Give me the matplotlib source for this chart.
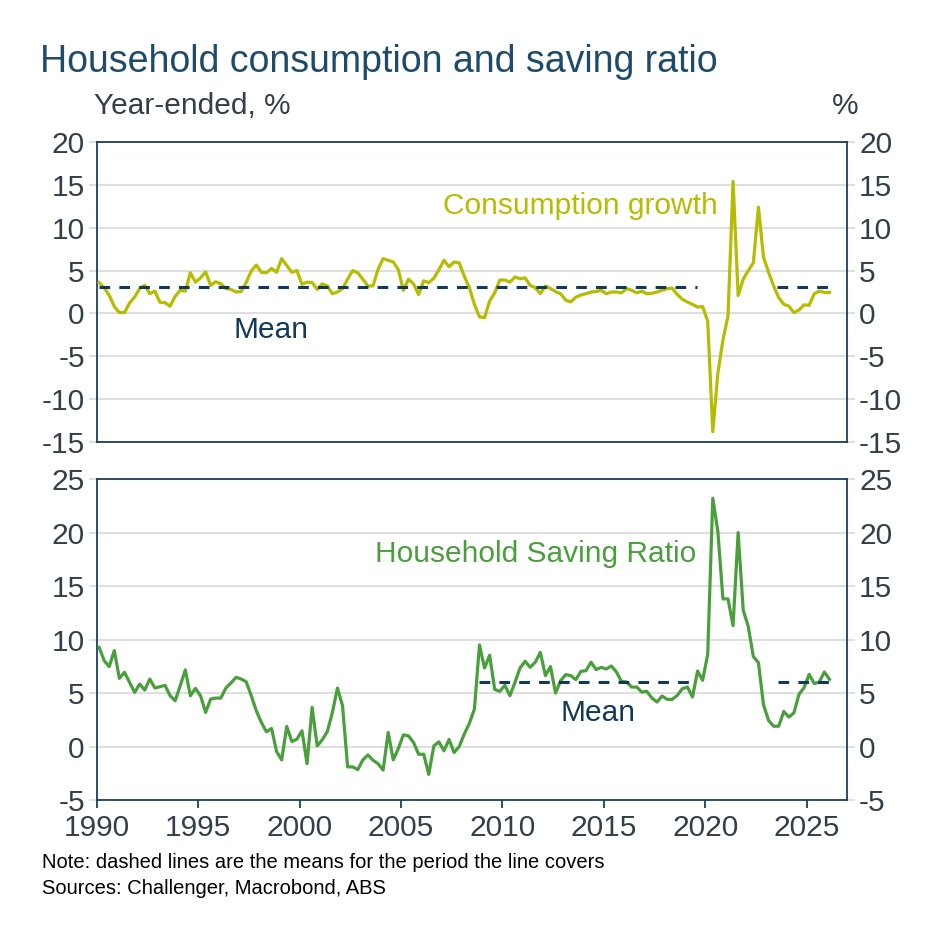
import matplotlib
matplotlib.use("Agg")
import matplotlib.pyplot as plt
import numpy as np

plt.rcParams['font.family'] = ['Liberation Sans', 'DejaVu Sans']
plt.rcParams['axes.unicode_minus'] = False

# quarterly data, 1990Q1 onwards
start_year = 1990
consumption = [
    3.6, 3.0, 2.1, 0.8, 0.1, 0.1, 1.2, 1.9, 2.9, 3.3,
    2.3, 2.6, 1.3, 1.25, 0.85, 2.0, 2.7, 2.6, 4.75, 3.65,
    4.15, 4.85, 3.27, 3.7, 3.45, 2.9, 2.8, 2.5, 2.55, 3.6,
    4.95, 5.65, 4.8, 4.75, 5.25, 4.8, 6.4, 5.6, 4.8, 5.0,
    3.4, 3.65, 3.6, 2.8, 3.45, 3.2, 2.3, 2.5, 2.9, 4.0,
    5.0, 4.75, 4.0, 3.2, 3.2, 5.15, 6.4, 6.2, 6.0, 5.1,
    2.7, 4.0, 3.45, 2.2, 3.8, 3.6, 4.1, 5.1, 6.2, 5.45,
    6.0, 5.9, 4.35, 3.0, 1.05, -0.4, -0.5, 1.45, 2.4, 3.9,
    3.9, 3.65, 4.25, 4.05, 4.15, 3.27, 3.0, 2.3, 3.2, 2.9,
    2.55, 2.3, 1.55, 1.35, 1.9, 2.15, 2.3, 2.5, 2.55, 2.7,
    2.3, 2.5, 2.5, 2.4, 2.9, 2.7, 2.4, 2.6, 2.3, 2.35,
    2.5, 2.7, 2.9, 2.95, 2.2, 1.65, 1.33, 1.06, 0.75, 0.8,
    -0.9, -13.8, -7.0, -3.1, -0.3, 15.4, 2.1, 4.0, 5.0, 5.9,
    12.4, 6.55, 4.8, 3.2, 1.85, 1.06, 0.86, 0.1, 0.4, 1.0,
    0.95, 2.3, 2.6, 2.45, 2.45,
]
saving = [
    9.28, 8.03, 7.47, 8.97, 6.37, 6.94, 6.0, 5.06, 5.84, 5.28,
    6.31, 5.47, 5.6, 5.72, 4.75, 4.28, 5.69, 7.16, 4.75, 5.44,
    4.75, 3.19, 4.44, 4.53, 4.53, 5.47, 5.94, 6.47, 6.31, 6.06,
    4.75, 3.34, 2.25, 1.38, 1.69, -0.47, -1.25, 1.88, 0.47, 0.69,
    1.47, -1.6, 3.66, 0.06, 0.63, 1.4, 3.19, 5.47, 3.81, -1.9,
    -1.9, -2.16, -1.25, -0.78, -1.28, -1.6, -2.2, 1.31, -1.25, -0.19,
    1.09, 1.0, 0.38, -0.72, -0.72, -2.6, 0.06, 0.44, -0.4, 0.66,
    -0.56, 0.0, 1.16, 2.16, 3.5, 9.5, 7.34, 8.53, 5.34, 5.16,
    5.72, 4.75, 6.0, 7.34, 7.97, 7.4, 7.88, 8.8, 6.63, 7.47,
    5.0, 6.16, 6.72, 6.63, 6.25, 7.03, 7.09, 7.88, 7.19, 7.4,
    7.25, 7.53, 6.97, 6.09, 6.03, 5.56, 5.56, 5.09, 5.16, 4.53,
    4.16, 4.72, 4.41, 4.41, 4.78, 5.41, 5.56, 4.63, 7.06, 6.19,
    8.63, 23.2, 20.1, 13.8, 13.8, 11.3, 20.0, 12.75, 11.2, 8.4,
    7.84, 3.9, 2.44, 1.9, 1.9, 3.28, 2.75, 3.16, 4.88, 5.5,
    6.75, 5.88, 6.03, 6.97, 6.28,
]

# means and the periods they cover
cons_mean = 3.05
cons_mean_spans = [(1990.1, 2019.6), (2023.55, 2026.1)]
sav_mean = 6.0
sav_mean_spans = [(2008.85, 2019.55), (2023.58, 2026.1)]

x_ticks = [1990, 1995, 2000, 2005, 2010, 2015, 2020, 2025]
cons_ticks = [-15, -10, -5, 0, 5, 10, 15, 20]
sav_ticks = [-5, 0, 5, 10, 15, 20, 25]

years = start_year + 0.12 + 0.25 * np.arange(len(consumption))

navy = '#1d3f5e'
mean_col = '#12395a'
grid_col = '#d9d9d9'
txt_col = '#333f48'
cons_col = '#b4bd00'
sav_col = '#4a9f3d'

fig = plt.figure(figsize=(9.43, 9.43), dpi=100)
ax1 = fig.add_axes([0.1025, 0.5313, 0.796, 0.3181])
ax2 = fig.add_axes([0.1025, 0.1516, 0.796, 0.3404])

def style(ax, ticks, lim):
    ax.set_xlim(1990, 2027)
    ax.set_ylim(*lim)
    ax.set_yticks(ticks)
    ax.grid(axis='y', color=grid_col, lw=1.2)
    ax.set_axisbelow(True)
    for s in ax.spines.values():
        s.set_color(navy)
        s.set_linewidth(1.3)
    ax.tick_params(axis='y', which='both', left=True, right=True,
                   labelleft=True, labelright=True, length=6,
                   color=grid_col, width=1.2, labelsize=21.5,
                   labelcolor=txt_col, pad=2.5)

style(ax1, cons_ticks, (-15, 20))
style(ax2, sav_ticks, (-5, 25))

ax1.plot(years, consumption, color=cons_col, lw=2.3, zorder=3)
for a, b in cons_mean_spans:
    ax1.plot([a, b], [cons_mean, cons_mean], color=mean_col, lw=2.2,
             dashes=(3.5, 3.0), zorder=4)
ax1.set_xticks(x_ticks)
ax1.tick_params(axis='x', bottom=False, labelbottom=False)

ax2.plot(years, saving, color=sav_col, lw=2.3, zorder=3)
for a, b in sav_mean_spans:
    ax2.plot([a, b], [sav_mean, sav_mean], color=mean_col, lw=2.2,
             dashes=(3.5, 3.0), zorder=4)
ax2.set_xticks(x_ticks)
ax2.tick_params(axis='x', length=6, color=navy, width=1.3,
                labelsize=21.5, labelcolor=txt_col, pad=4)

ax1.text(2013.86, 12.5, 'Consumption growth', color=cons_col, fontsize=21.5,
         ha='center', va='center')
ax1.text(1998.6, -1.9, 'Mean', color=mean_col, fontsize=21.5,
         ha='center', va='center')
ax2.text(2011.65, 18.0, 'Household Saving Ratio', color=sav_col,
         fontsize=21.5, ha='center', va='center')
ax2.text(2014.7, 3.15, 'Mean', color=mean_col, fontsize=21.5,
         ha='center', va='center')

fig.text(0.042, 0.934, 'Household consumption and saving ratio',
         color='#1f4b6b', fontsize=27, ha='left', va='center')
fig.text(0.1, 0.888, 'Year-ended, %', color=txt_col, fontsize=21.5,
         ha='left', va='center')
fig.text(0.896, 0.888, '%', color=txt_col, fontsize=21.5,
         ha='center', va='center')
fig.text(0.045, 0.085, 'Note: dashed lines are the means for the period the line covers',
         color='black', fontsize=14.5, ha='left', va='center')
fig.text(0.045, 0.058, 'Sources: Challenger, Macrobond, ABS',
         color='black', fontsize=14.5, ha='left', va='center')

fig.savefig('out.png', dpi=100, facecolor='white')
